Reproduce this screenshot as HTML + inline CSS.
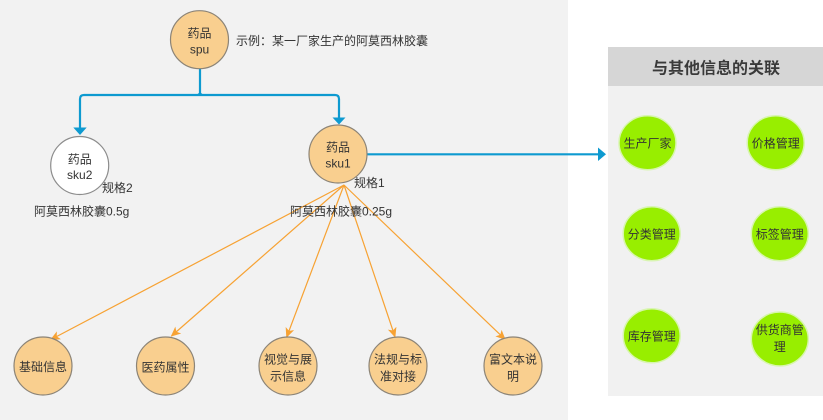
<!DOCTYPE html>
<html>
<head>
<meta charset="utf-8">
<style>
  html,body{margin:0;padding:0;background:#fff;}
  body{width:823px;height:420px;overflow:hidden;}
  svg{display:block;}
  text{font-family:"Liberation Sans","Noto Sans CJK SC",sans-serif;fill:#333;}
</style>
</head>
<body>
<svg width="823" height="420" viewBox="0 0 823 420" xmlns="http://www.w3.org/2000/svg">
  <defs>
    <marker id="oa" markerWidth="10" markerHeight="10" refX="9" refY="5" orient="auto" markerUnits="userSpaceOnUse">
      <path d="M0,0.5 L10,5 L0,9.5 L2.5,5 Z" fill="#f7a233"/>
    </marker>
  </defs>

  <!-- backgrounds -->
  <rect x="0" y="0" width="568" height="420" fill="#f2f2f2"/>
  <rect x="568" y="0" width="255" height="420" fill="#ffffff"/>
  <rect x="608" y="47" width="215" height="349" fill="#f1f1f1"/>
  <rect x="608" y="47" width="215" height="39" fill="#d6d6d6"/>
  <text x="716" y="69" font-size="16" font-weight="bold" text-anchor="middle" dominant-baseline="central" style="fill:#3a3a3a">与其他信息的关联</text>

  <!-- blue connectors -->
  <g stroke="#0e9ad0" stroke-width="2.2" fill="none">
    <path d="M200,69 V95"/>
    <path d="M80,128 V99 Q80,95 84,95 H335 Q339,95 339,99 V118"/>
    <path d="M367,154.3 H599"/>
  </g>
  <path d="M196,95 Q200,93 200,90 Q200,93 204,95 Z" fill="#0e9ad0"/>
  <polygon points="73.3,127.5 86.7,127.5 80,135" fill="#0e9ad0"/>
  <polygon points="332.5,117.5 345.5,117.5 339,124.5" fill="#0e9ad0"/>
  <polygon points="598,147.5 606,154.3 598,161" fill="#0e9ad0"/>

  <!-- orange connectors -->
  <g stroke="#f7a233" stroke-width="1.2" fill="none" marker-end="url(#oa)">
    <line x1="344" y1="185" x2="51" y2="339.5"/>
    <line x1="344" y1="185" x2="171.5" y2="336"/>
    <line x1="344" y1="185" x2="286.7" y2="337"/>
    <line x1="344" y1="185" x2="395" y2="336.7"/>
    <line x1="344" y1="185" x2="505" y2="339.3"/>
  </g>

  <!-- top nodes -->
  <circle cx="199.5" cy="39.7" r="29" fill="#f9cf8f" stroke="#8c8477" stroke-width="1.2"/>
  <text x="199.5" y="33.5" font-size="12" text-anchor="middle" dominant-baseline="central">药品</text>
  <text x="199.5" y="49.5" font-size="12" text-anchor="middle" dominant-baseline="central">spu</text>
  <text x="236" y="41" font-size="12" dominant-baseline="central">示例：某一厂家生产的阿莫西林胶囊</text>

  <circle cx="79.7" cy="165.5" r="29" fill="#ffffff" stroke="#8c8c8c" stroke-width="1.2"/>
  <text x="79.7" y="159.3" font-size="12" text-anchor="middle" dominant-baseline="central">药品</text>
  <text x="79.7" y="175" font-size="12" text-anchor="middle" dominant-baseline="central">sku2</text>
  <text x="102" y="188" font-size="12" dominant-baseline="central">规格2</text>
  <text x="34" y="211.5" font-size="12" dominant-baseline="central">阿莫西林胶囊0.5g</text>

  <circle cx="338" cy="154" r="29" fill="#f9cf8f" stroke="#8c8477" stroke-width="1.2"/>
  <text x="338" y="147.7" font-size="12" text-anchor="middle" dominant-baseline="central">药品</text>
  <text x="338" y="163.3" font-size="12" text-anchor="middle" dominant-baseline="central">sku1</text>
  <text x="354" y="183" font-size="12" dominant-baseline="central">规格1</text>
  <text x="290" y="211.5" font-size="12" dominant-baseline="central">阿莫西林胶囊0.25g</text>

  <!-- bottom nodes -->
  <g fill="#f9cf8f" stroke="#8c8477" stroke-width="1.2">
    <circle cx="43" cy="366" r="29"/>
    <circle cx="165.5" cy="366" r="29"/>
    <circle cx="288" cy="366" r="29"/>
    <circle cx="398" cy="366" r="29"/>
    <circle cx="513" cy="366" r="29"/>
  </g>
  <g font-size="12" text-anchor="middle" dominant-baseline="central">
    <text x="43" y="367">基础信息</text>
    <text x="165.5" y="367.5">医药属性</text>
    <text x="288" y="359.3">视觉与展</text>
    <text x="288" y="376.5">示信息</text>
    <text x="398" y="359.3">法规与标</text>
    <text x="398" y="376.5">准对接</text>
    <text x="513" y="359.3">富文本说</text>
    <text x="513" y="376.5">明</text>
  </g>

  <!-- green nodes -->
  <g fill="#98ee00" stroke="#d8f5b0" stroke-width="1.5">
    <ellipse cx="647.5" cy="142.7" rx="28.5" ry="27"/>
    <ellipse cx="775.7" cy="142.7" rx="28.5" ry="27"/>
    <ellipse cx="651.7" cy="233.8" rx="28.5" ry="27"/>
    <ellipse cx="779.8" cy="233.8" rx="28.5" ry="27"/>
    <ellipse cx="651.7" cy="335.8" rx="28.5" ry="27"/>
    <ellipse cx="779.8" cy="339" rx="28.5" ry="27"/>
  </g>
  <g font-size="12" text-anchor="middle" dominant-baseline="central">
    <text x="647.5" y="143.5">生产厂家</text>
    <text x="775.7" y="143.5">价格管理</text>
    <text x="651.7" y="234.5">分类管理</text>
    <text x="779.8" y="234.5">标签管理</text>
    <text x="651.7" y="336.5">库存管理</text>
    <text x="779.8" y="330">供货商管</text>
    <text x="779.8" y="347">理</text>
  </g>
</svg>
</body>
</html>
